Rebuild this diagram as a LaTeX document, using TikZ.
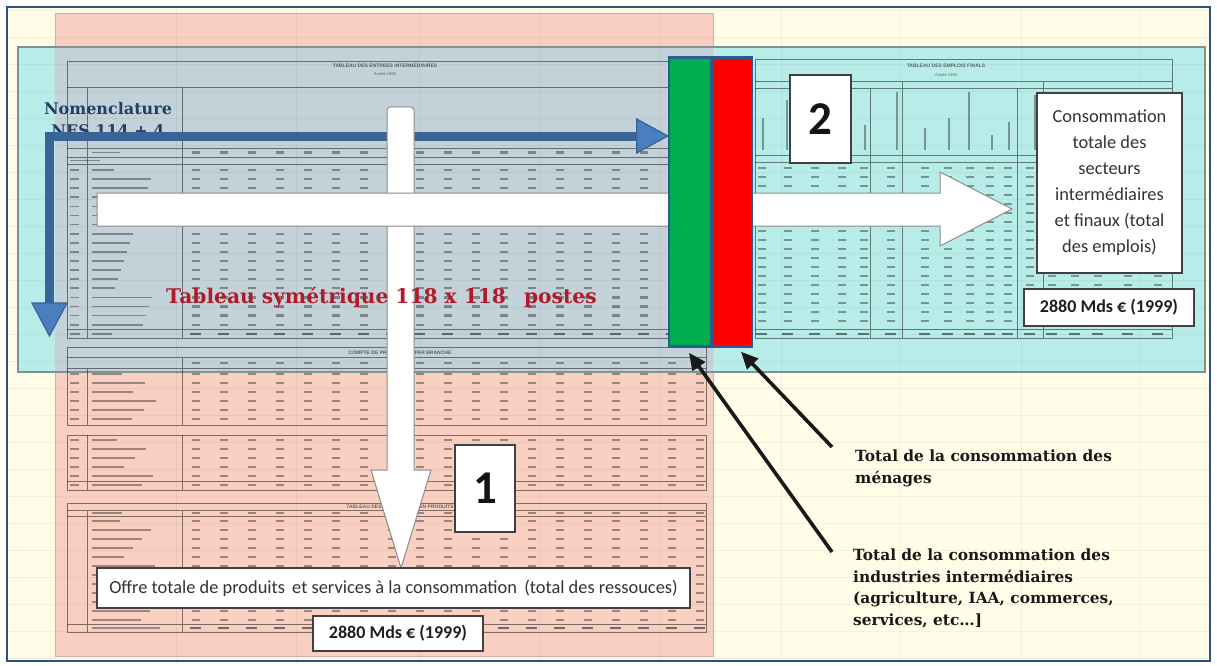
\documentclass[tikz,border=0pt]{standalone}
\usepackage{fontspec}
\usetikzlibrary{arrows.meta,calc}
\newfontfamily\calib{Carlito}
\newfontfamily\dvs{DejaVu Serif}
\newfontfamily\lsans{Liberation Sans}
\definecolor{cream}{HTML}{FFFDE8}
\definecolor{pinkf}{HTML}{F8CFC0}
\definecolor{pinkb}{HTML}{CFAEA3}
\definecolor{cyanf}{HTML}{B8ECE9}
\definecolor{cyanb}{HTML}{7F9191}
\definecolor{overf}{HTML}{C3D2D8}
\definecolor{framecol}{HTML}{30507F}
\definecolor{bluebar}{HTML}{3A6396}
\definecolor{bluehead}{HTML}{4A7EBF}
\definecolor{barblue}{HTML}{2C5B8E}
\definecolor{greenf}{HTML}{00B050}
\definecolor{redf}{HTML}{FF0000}
\definecolor{titlered}{HTML}{B01A2A}
\definecolor{nomblue}{HTML}{223F68}
\definecolor{boxgray}{HTML}{404040}
\definecolor{textgray}{HTML}{333333}
\definecolor{warrowb}{HTML}{8C8C8C}
\begin{document}
\begin{tikzpicture}[x=1pt,y=-1pt,
  tl/.style={draw=black, draw opacity=0.48, line width=1pt},
  num/.style={draw=black, draw opacity=0.36, line width=2.3pt},
  numb/.style={draw=black, draw opacity=0.5, line width=2.5pt},
  lab/.style={draw=black, draw opacity=0.36, line width=1.7pt},
  gridl/.style={draw=black, draw opacity=0.045, line width=0.8pt},
  tiny/.style={font=\lsans\bfseries\fontsize{5}{6}\selectfont, text=black, text opacity=0.55, inner sep=0pt},
  box/.style={draw=boxgray, line width=1.3pt, fill=white, inner sep=0pt},
  warrow/.style={fill=white, draw=warrowb, line width=1pt},
  bar/.style={draw=barblue, line width=2.5pt, inner sep=0pt, minimum width=42pt, minimum height=289pt},
  blk/.style={draw=black!90, line width=3.6pt, -{Triangle[length=17pt,width=15pt]}},
  calout/.style={font=\calib\fontsize{18.4}{26}\selectfont, text=textgray, align=center},
  calnum/.style={font=\calib\bfseries\fontsize{18}{20}\selectfont, text=black!88},
  bigdigit/.style={font=\calib\bfseries\fontsize{47}{47}\selectfont, text=black!92},
  note/.style={font=\dvs\bfseries\fontsize{15.4}{21.5}\selectfont, text=black!90, align=left, inner sep=0pt, anchor=north west}
]
\useasboundingbox (0,0) rectangle (1217,666);
\fill[white] (0,0) rectangle (1217,666);
\fill[cream] (7,7) rectangle (1210,661);
% big coloured areas
\fill[pinkf] (55,14) rectangle (713,656);
\draw[pinkb, line width=1pt] (55,14) rectangle (713,656);
\fill[cyanf] (18,47) rectangle (1205,372);
\fill[overf] (55,47) rectangle (713,372);
\draw[cyanb, line width=1.5pt] (18,47) rectangle (1205,372);
% faint spreadsheet grid
\foreach \gy in {10,37,...,658} \draw[gridl] (8,\gy) -- (1209,\gy);
\foreach \gx in {176,296,419,539,660,781,899,1021,1139} \draw[gridl] (\gx,8) -- (\gx,660);

% ---------- left table 1 ----------
\draw[tl] (67,62) rectangle (706,338);
\draw[tl] (67,88) -- (706,88) (87,88) -- (87,338) (182,88) -- (182,338)
  (67,148) -- (706,148) (67,157) -- (706,157) (67,164) -- (706,164) (67,329) -- (706,329);
\node[tiny] (t1a) at (385,66) {TABLEAU DES ENTREES INTERMEDIAIRES};
\node[tiny, font=\lsans\fontsize{4}{5}\selectfont] (t1b) at (385,74) {Année 1999};
\draw[lab] (92,152.5) -- (120,152.5) (70,160.5) -- (100,160.5);
\foreach \x in {196,224,...,700} {
  \draw[num] (\x-4,152.5) -- (\x+4,152.5);
  \foreach \r in {0,...,17} \draw[num] (\x-4,170+9.1*\r) -- (\x+4,170+9.1*\r);
  \draw[numb] (\x-6,334) -- (\x+5,334);
}
\foreach \r in {0,...,17} {
  \pgfmathsetmacro\ll{22+mod(\r*37,40)}
  \draw[lab] (70,170+9.1*\r) -- (79,170+9.1*\r) (92,170+9.1*\r) -- (92+\ll,170+9.1*\r);
}
\draw[lab] (70,334) -- (80,334) (92,334) -- (112,334);

% ---------- left table 2 ----------
\draw[tl] (67,347) rectangle (706,425);
\draw[tl] (67,357) -- (706,357) (67,368) -- (706,368) (87,368) -- (87,425) (182,357) -- (182,425);
\node[tiny] (t2a) at (400,352.5) {COMPTE DE PRODUCTION PAR BRANCHE};
\foreach \x in {196,224,...,700} {
  \draw[num] (\x-4,363) -- (\x+4,363);
  \foreach \r in {0,...,5} \draw[num] (\x-4,374+9*\r) -- (\x+4,374+9*\r);
}
\foreach \r in {0,...,5} {
  \pgfmathsetmacro\ll{30+mod(\r*23,35)}
  \draw[lab] (70,374+9*\r) -- (79,374+9*\r) (92,374+9*\r) -- (92+\ll,374+9*\r);
}
% ---------- left table 3 ----------
\draw[tl] (67,435) rectangle (706,490);
\draw[tl] (87,435) -- (87,490) (182,435) -- (182,490) (67,481) -- (706,481);
\foreach \x in {196,224,...,700} {
  \foreach \r in {0,...,5} \draw[num] (\x-4,440+9*\r) -- (\x+4,440+9*\r);
}
\foreach \r in {0,...,5} {
  \pgfmathsetmacro\ll{25+mod(\r*29,40)}
  \draw[lab] (70,440+9*\r) -- (79,440+9*\r) (92,440+9*\r) -- (92+\ll,440+9*\r);
}
% ---------- left table 4 ----------
\draw[tl] (67,503) rectangle (706,632);
\draw[tl] (67,510) -- (706,510) (67,516) -- (706,516) (87,510) -- (87,632) (182,510) -- (182,632) (67,624) -- (706,624);
\node[tiny] (t4a) at (400,506.5) {TABLEAU DES RESSOURCES EN PRODUITS};
\draw[lab] (92,513) -- (122,513);
\foreach \x in {196,224,...,700} {
  \draw[num] (\x-4,513) -- (\x+4,513);
  \foreach \r in {0,...,11} \draw[num] (\x-4,521+9*\r) -- (\x+4,521+9*\r);
  \draw[numb] (\x-6,628) -- (\x+5,628);
}
\foreach \r in {0,...,11} {
  \pgfmathsetmacro\ll{28+mod(\r*31,40)}
  \draw[lab] (92,521+9*\r) -- (92+\ll,521+9*\r);
}
\draw[lab] (92,628) -- (160,628);

% ---------- right table ----------
\draw[tl] (755,60) rectangle (1172,338);
\draw[tl] (755,82) -- (1172,82) (755,89) -- (1172,89) (755,155) -- (1172,155) (755,162) -- (1172,162) (755,329) -- (1172,329)
  (870,89) -- (870,338) (902,82) -- (902,338) (1017,89) -- (1017,338) (1043,82) -- (1043,338);
\node[tiny] (t5a) at (946,66) {TABLEAU DES EMPLOIS FINALS};
\node[tiny, font=\lsans\fontsize{4}{5}\selectfont] (t5b) at (946,75) {Année 1999};
\foreach \x/\t in {763/118,787/100,865/125,897/92,925/128,949/118,969/92,992/135,1009/122,1035/95}
  \draw[lab] (\x,\t) -- (\x,150);
\foreach \x in {762,788,815,842,864,891,925,948,970,990,1008,1030,1052,1075,1098,1128,1158} {
  \foreach \r in {0,...,17} \draw[num] (\x-4,168+9*\r) -- (\x+4,168+9*\r);
  \draw[numb] (\x-6,334) -- (\x+5,334);
}

% ---------- Nomenclature + blue L arrow ----------
\node[font=\dvs\bfseries\fontsize{16}{22}\selectfont, text=nomblue, align=center, anchor=north, inner sep=0pt] (nom) at (108,102) {Nomenclature\\NES 114 + 4};
\coordinate (corner) at (49.5,136);
\coordinate (downtip) at (49.5,336);

% ---------- bars ----------
\node[bar, fill=greenf] (greenbar) at (690,202) {};
\node[bar, fill=redf, minimum width=40pt] (redbar) at (732,202) {};
\coordinate (righttip) at (greenbar.west |- corner);
\draw[bluebar, line width=9pt] ($(downtip)+(0,-33)$) -- (corner) -- ($(righttip)+(-31,0)$);
\filldraw[fill=bluehead, draw=bluebar, line width=1.2pt] ($(downtip)+(-17.5,-33)$) -- (downtip) -- ($(downtip)+(17.5,-33)$) -- cycle;
\filldraw[fill=bluehead, draw=bluebar, line width=1.2pt] ($(righttip)+(-31,-17)$) -- (righttip) -- ($(righttip)+(-31,17)$) -- cycle;

% ---------- white block arrows ----------
\filldraw[warrow] (387,470) -- (387,110) [rounded corners=3pt] -- (387,107) -- (414,107) [sharp corners] -- (414,470) -- (431,470) -- (401,568) -- (371,470) -- cycle;
\filldraw[warrow] (97,193) -- (940,193) -- (940,172) -- (1012,209) -- (940,246) -- (940,226) -- (97,226) -- cycle;
\fill[white] (388,194) rectangle (413,225);
% bars on top of the white arrow
\node[bar, fill=greenf] (greenbar2) at (690,202) {};
\node[bar, fill=redf, minimum width=40pt] (redbar2) at (732,202) {};

% ---------- boxes ----------
\node[box, minimum width=61pt, minimum height=88pt, bigdigit] (two) at (820.5,119) {2};
\node[box, minimum width=60pt, minimum height=87pt, bigdigit] (one) at (485,488.5) {1};
\node[box, minimum width=145pt, minimum height=180pt, calout] (conso) at (1109.5,183)
  {Consommation\\totale des\\secteurs\\intermédiaires\\et finaux (total\\des emplois)};
\node[box, minimum width=170pt, minimum height=37pt, calnum] (tot2) at (1109,307.5) {2880 Mds € (1999)};
\node[box, minimum width=593pt, minimum height=40pt, font=\calib\fontsize{18.4}{22}\selectfont, text=textgray] (offre) at (393.5,588)
  {Offre totale de produits\, et services à la consommation\, (total des ressouces)};
\node[box, minimum width=170pt, minimum height=35pt, calnum] (tot1) at (398,633.5) {2880 Mds € (1999)};

% ---------- red title ----------
\node[anchor=base west, inner sep=0pt, font=\dvs\bfseries\fontsize{20.2}{24}\selectfont, text=titlered] (title) at (166,303)
  {Tableau symétrique 118 x 118\hspace{0.9em}postes};

% ---------- black notes + arrows ----------
\node[note] (menages) at (855,450) {Total de la consommation des\\ménages};
\node[note] (indus) at (853,549) {Total de la consommation des\\industries intermédiaires\\(agriculture, IAA, commerces,\\services, etc…]};
\coordinate (m1) at (832,447);
\coordinate (m2) at (832,552);
\draw[blk] (m1) -- ($(redbar2.south)+(9,4)$);
\draw[blk] (m2) -- ($(greenbar2.south)+(-1,5)$);

% outer frame
\draw[framecol, line width=2pt] (7,7) rectangle (1210,661);
\end{tikzpicture}
\end{document}
